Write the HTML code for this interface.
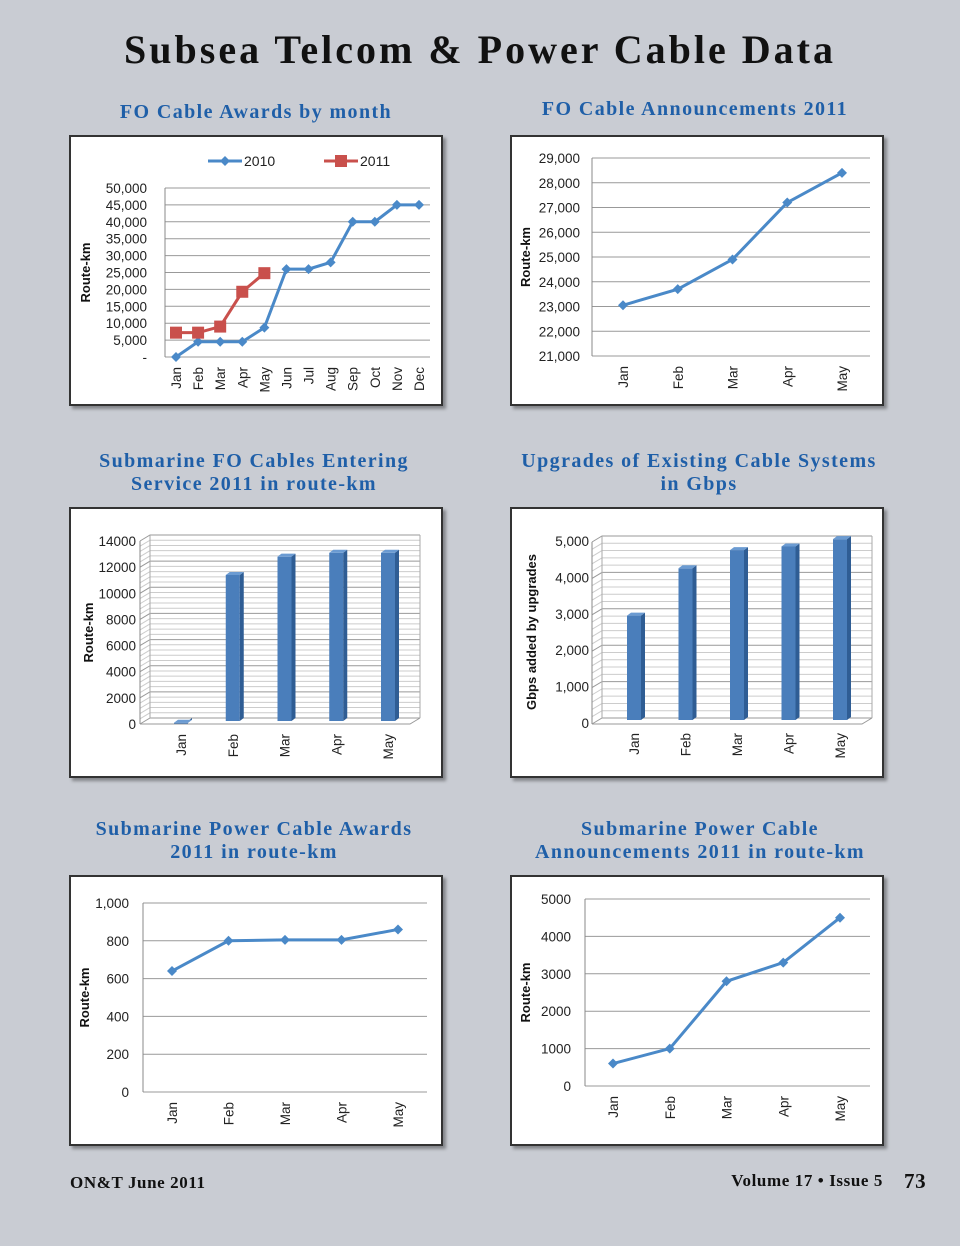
<!DOCTYPE html>
<html><head><meta charset="utf-8"><style>
body{margin:0;width:960px;height:1246px;background:#c9ccd3;position:relative;overflow:hidden;font-family:"Liberation Serif",serif}
h1{position:absolute;left:0;width:960px;top:26px;margin:0;text-align:center;font-size:40px;font-weight:bold;color:#111;letter-spacing:3px}
.pt{position:absolute;text-align:center;color:#1f5fa8;font-weight:bold;font-size:20px;line-height:23px;width:440px;letter-spacing:1.4px}
.box{position:absolute;background:#fff;border:2px solid #333;box-shadow:3px 3px 3px rgba(0,0,0,.35);box-sizing:border-box}
svg{position:absolute;left:0;top:0}
.ft{position:absolute;font-weight:bold;font-size:17px;color:#111;letter-spacing:0.6px}
</style></head><body>
<h1>Subsea Telcom &amp; Power Cable Data</h1>
<div class="pt" style="left:36px;top:101px">FO Cable Awards by month</div>
<div class="pt" style="left:475px;top:98px">FO Cable Announcements 2011</div>
<div class="pt" style="left:34px;top:450px">Submarine FO Cables Entering<br>Service 2011 in route-km</div>
<div class="pt" style="left:479px;top:450px">Upgrades of Existing Cable Systems<br>in Gbps</div>
<div class="pt" style="left:34px;top:818px">Submarine Power Cable Awards<br>2011 in route-km</div>
<div class="pt" style="left:480px;top:818px">Submarine Power Cable<br>Announcements 2011 in route-km</div>
<div class="box" style="left:69px;top:135px;width:374px;height:271px"></div>
<div class="box" style="left:510px;top:135px;width:374px;height:271px"></div>
<div class="box" style="left:69px;top:507px;width:374px;height:271px"></div>
<div class="box" style="left:510px;top:507px;width:374px;height:271px"></div>
<div class="box" style="left:69px;top:875px;width:374px;height:271px"></div>
<div class="box" style="left:510px;top:875px;width:374px;height:271px"></div>
<svg id="s" width="960" height="1246" font-family="Liberation Sans, sans-serif"></svg>
<div class="ft" style="left:70px;top:1173px">ON&amp;T June 2011</div>
<div class="ft" style="left:680px;top:1171px;width:203px;text-align:right">Volume 17 • Issue 5</div>
<div class="ft" style="left:904px;top:1169px;font-size:21px">73</div>
<script>
const months12 = ["Jan","Feb","Mar","Apr","May","Jun","Jul","Aug","Sep","Oct","Nov","Dec"];
const months5 = ["Jan","Feb","Mar","Apr","May"];
const awards2010 = [0,4500,4500,4500,8700,26000,26000,28000,40000,40000,45000,45000];
const awards2011 = [7200,7200,9000,19300,24800];
const ticks1 = ["-","5,000","10,000","15,000","20,000","25,000","30,000","35,000","40,000","45,000","50,000"];
const announce2011 = [23050,23700,24900,27200,28400];
const ticks2 = ["21,000","22,000","23,000","24,000","25,000","26,000","27,000","28,000","29,000"];
const entering2011 = [100,11400,12800,13100,13100];
const ticks3 = ["0","2000","4000","6000","8000","10000","12000","14000"];
const upgrades2011 = [2950,4250,4750,4850,5050];
const ticks4 = ["0","1,000","2,000","3,000","4,000","5,000"];
const power2011 = [640,800,805,805,860];
const ticks5 = ["0","200","400","600","800","1,000"];
const powerAnn2011 = [600,1000,2800,3300,4500];
const ticks6 = ["0","1000","2000","3000","4000","5000"];

const S=document.getElementById('s');const NS='http://www.w3.org/2000/svg';
function el(t,a,txt){const e=document.createElementNS(NS,t);for(const k in a)e.setAttribute(k,a[k]);if(txt!=null)e.textContent=txt;S.appendChild(e);return e;}
function axis(o){
  const ys=v=>o.y0-(v-o.min)/(o.max-o.min)*(o.y0-o.y1);
  const xs=i=>o.cx0+i*(o.cx1-o.cx0)/(o.cats.length-1);
  o.ticks.forEach((t,i)=>{const v=o.min+i*(o.max-o.min)/(o.ticks.length-1);const y=ys(v);
    if(!o.nogrid){const g=el('line',{x1:o.x0,x2:o.x1,y1:y,y2:y,stroke:'#999','stroke-width':1});}
    const l=el('text',{x:o.lx||o.x0-6,y:y+5,'text-anchor':'end','font-size':13.5,fill:'#222'},t);});
  if(!o.nogrid){el('line',{x1:o.x0,x2:o.x0,y1:o.y1,y2:o.y0,stroke:'#888'});}
  o.cats.forEach((c,i)=>{const x=xs(i);const t=el('text',{x:0,y:0,transform:`translate(${x+5},${o.y0+10}) rotate(-90)`,'text-anchor':'end','font-size':13.5,fill:'#222'},c);});
  const yt=el('text',{x:0,y:0,transform:`translate(${o.tx},${(o.y0+o.y1)/2}) rotate(-90)`,'text-anchor':'middle','font-size':13,'font-weight':'bold',fill:'#111'},o.title);
  
  return {xs,ys};
}
function line(a,vals,color,sq,name){
  const pts=vals.map((v,i)=>[a.xs(i),a.ys(v)]);
  const p=el('polyline',{points:pts.map(p=>p.join(',')).join(' '),fill:'none',stroke:color,'stroke-width':3});
  
  pts.forEach(([x,y])=>{let m;
    if(sq)m=el('rect',{x:x-6,y:y-6,width:12,height:12,fill:color});
    else m=el('polygon',{points:`${x},${y-5} ${x+5},${y} ${x},${y+5} ${x-5},${y}`,fill:color});
    });
}
function bars(a,vals,name){
  vals.forEach((v,i)=>{const x=a.xs(i),y=a.ys(v),y0=a.ys(0)-3,w=14;
    const r=el('rect',{x:x-w/2,y:y,width:w,height:Math.max(1,y0-y),fill:'#4a7ebb'});
    
    el('polygon',{points:`${x+w/2},${y} ${x+w/2+4},${y-3} ${x+w/2+4},${y0-3} ${x+w/2},${y0}`,fill:'#2f5d94'});
    el('polygon',{points:`${x-w/2},${y} ${x-w/2+4},${y-3} ${x+w/2+4},${y-3} ${x+w/2},${y}`,fill:'#6b9bd2'});
  });
}
function wall(x0,x1,y0,y1,n){
  for(let i=0;i<=n;i++){const y=y0-i*(y0-y1)/n;const g=el('polyline',{points:`${x0-10},${y+6} ${x0},${y} ${x1},${y}`,fill:'none',stroke:i%5==0?'#999':'#ccc','stroke-width':1});}
  el('line',{x1:x0,x2:x0,y1:y1,y2:y0,stroke:'#aaa'});el('line',{x1:x1,x2:x1,y1:y1,y2:y0,stroke:'#aaa'});
  el('line',{x1:x0-10,x2:x0-10,y1:y1+6,y2:y0+6,stroke:'#888'});
  el('polyline',{points:`${x0-10},${y0+6} ${x1-10},${y0+6} ${x1},${y0}`,fill:'none',stroke:'#999'});
}
// Chart 1
let a=axis({x0:165,x1:430,y0:357,y1:188,min:0,max:50000,ticks:ticks1,cats:months12,cx0:176,cx1:419,title:'Route-km',tx:90,lx:147});
line(a,awards2010,'#4a89c8',false,'awards-2010');
line(a,awards2011,'#c9504c',true,'awards-2011');
el('line',{x1:208,x2:242,y1:161,y2:161,stroke:'#4a89c8','stroke-width':3});
el('polygon',{points:'225,156 230,161 225,166 220,161',fill:'#4a89c8'});
let lt=el('text',{x:244,y:166,'font-size':14,fill:'#222'},'2010');
el('line',{x1:324,x2:358,y1:161,y2:161,stroke:'#c9504c','stroke-width':3});
el('rect',{x:335,y:155,width:12,height:12,fill:'#c9504c'});
lt=el('text',{x:360,y:166,'font-size':14,fill:'#222'},'2011');
// Chart 2
a=axis({x0:592,x1:870,y0:356,y1:158,min:21000,max:29000,ticks:ticks2,cats:months5,cx0:623,cx1:842,title:'Route-km',tx:530,lx:580});
line(a,announce2011,'#4a89c8',false,'announcements');
// Chart 3
wall(150,420,718,535,35);
a=axis({x0:146,x1:146,y0:724,y1:541,min:0,max:14000,ticks:ticks3,cats:months5,cx0:181,cx1:388,title:'Route-km',tx:93,nogrid:true,lx:136});
bars(a,entering2011,'entering-service');
// Chart 4
wall(602,872,718,536,25);
a=axis({x0:596,x1:596,y0:723,y1:541,min:0,max:5000,ticks:ticks4,cats:months5,cx0:634,cx1:840,title:'Gbps added by upgrades',tx:536,nogrid:true,lx:589});
bars(a,upgrades2011,'upgrades');
// Chart 5
a=axis({x0:143,x1:427,y0:1092,y1:903,min:0,max:1000,ticks:ticks5,cats:months5,cx0:172,cx1:398,title:'Route-km',tx:89,lx:129});
line(a,power2011,'#4a89c8',false,'power-awards');
// Chart 6
a=axis({x0:585,x1:870,y0:1086,y1:899,min:0,max:5000,ticks:ticks6,cats:months5,cx0:613,cx1:840,title:'Route-km',tx:530,lx:571});
line(a,powerAnn2011,'#4a89c8',false,'power-announcements');
</script>
</body></html>
